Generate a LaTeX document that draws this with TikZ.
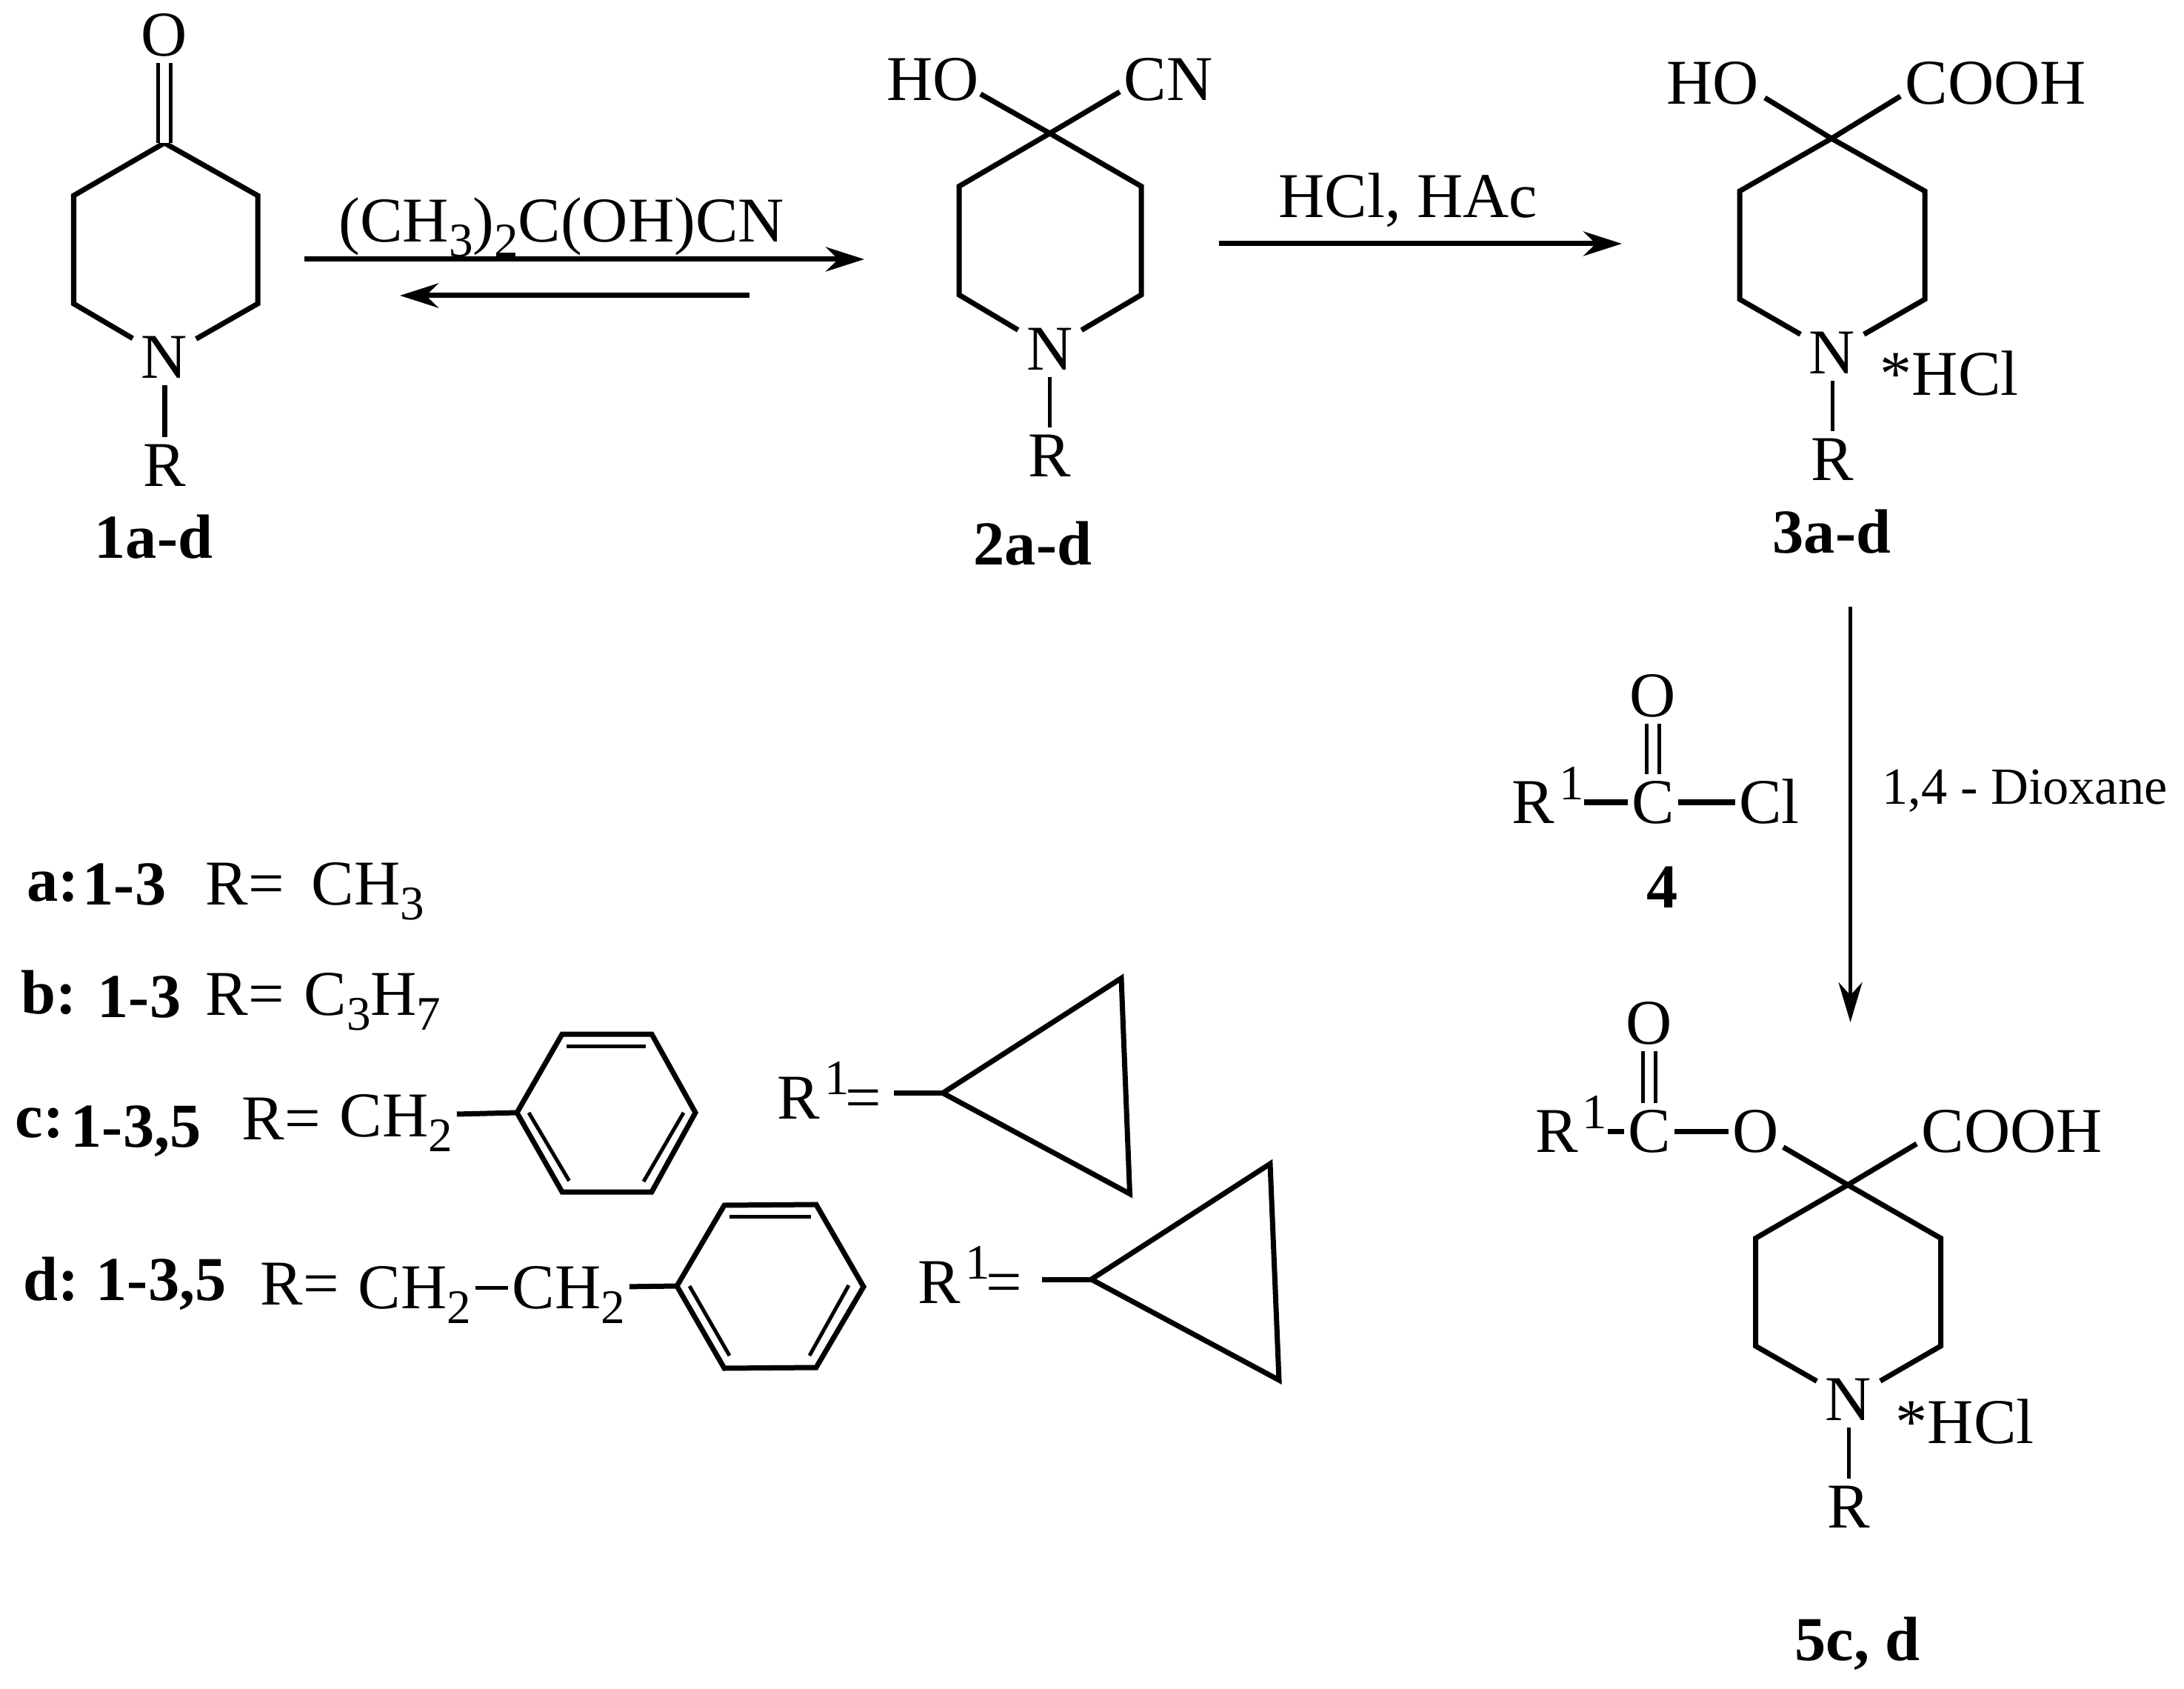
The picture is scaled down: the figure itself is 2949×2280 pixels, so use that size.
\documentclass[tikz,border=0pt]{standalone}
\usepackage{fontspec}
\setmainfont{Liberation Serif}
\usetikzlibrary{arrows.meta}
\newcommand{\sbs}[1]{\raisebox{-0.2cm}{\fontsize{18.5}{18.5}\selectfont #1}}
\newcommand{\spr}[1]{\hspace{0.06cm}\raisebox{0.32cm}{\fontsize{19}{19}\selectfont #1}}
\tikzset{
  atom/.style={
    inner xsep=0.05cm, inner ysep=0.09cm, text height=0.57cm, text depth=0pt,
    font=\fontsize{24.5}{28}\selectfont
  },
  amine/.style={atom, inner xsep=0.11cm},
  rgroup/.style={atom, inner xsep=0pt},
  formula/.style={inner sep=0pt, anchor=base west, font=\fontsize{24.5}{28}\selectfont},
  solvent/.style={inner sep=0pt, anchor=base west, font=\fontsize{20}{24}\selectfont},
  compound/.style={inner sep=0pt, anchor=base west, font=\fontsize{24}{28}\selectfont\bfseries},
  bond/.style={line width=0.07cm},
  thinbond/.style={line width=0.05cm},
  dblbond/.style={double, line width=0.05cm, double distance=0.12cm},
  reaction/.style={-{Stealth[length=0.52cm,width=0.33cm]}, line width=0.07cm},
  reactionthin/.style={-{Stealth[length=0.54cm,width=0.32cm]}, line width=0.05cm}
}
\begin{document}
\begin{tikzpicture}[x=0.01cm, y=-0.01cm]
\useasboundingbox (0,0) rectangle (2949,2280);

% Compound 1
\node[atom] (o1) at (222,47) {O};
\node[amine] (n1) at (222,482) {N};
\node[atom] (r1) at (222,628) {R};
\coordinate (c1a) at (222,193);
\coordinate (c1b) at (99.5,264);
\coordinate (c1c) at (99.5,410);
\coordinate (c1d) at (348,264);
\coordinate (c1e) at (348,410);
\draw[bond] (n1) -- (c1c) -- (c1b) -- (c1a) -- (c1d) -- (c1e) -- (n1);
\draw[dblbond] (o1) -- (c1a);
\draw[bond] (n1) -- (r1);
\node[compound] (lab1) at (127,754) {1a-d};

% Compound 2
\node[amine] (n2) at (1417.5,471) {N};
\node[atom] (r2) at (1417.5,615) {R};
\node[formula] (ho2) at (1197,136) {HO};
\node[formula] (cn2) at (1517,136) {CN};
\coordinate (c2a) at (1417.5,180);
\coordinate (c2b) at (1295,251.5);
\coordinate (c2c) at (1295,398);
\coordinate (c2d) at (1541,251.5);
\coordinate (c2e) at (1541,398);
\coordinate (c2ho) at (1324,127);
\coordinate (c2cn) at (1512,124);
\draw[bond] (n2) -- (c2c) -- (c2b) -- (c2a) -- (c2d) -- (c2e) -- (n2);
\draw[bond] (c2a) -- (c2ho);
\draw[bond] (c2a) -- (c2cn);
\draw[thinbond] (n2) -- (r2);
\node[compound] (lab2) at (1314,763) {2a-d};

% Compound 3
\node[amine] (n3) at (2474,476) {N};
\node[atom] (r3) at (2474,620) {R};
\node[formula] (ho3) at (2250,141) {HO};
\node[formula] (cooh3) at (2572,141) {COOH};
\node[formula] (hcl3) at (2538,534) {*HCl};
\coordinate (c3a) at (2473,187);
\coordinate (c3b) at (2349,258);
\coordinate (c3c) at (2349,404);
\coordinate (c3d) at (2599,258);
\coordinate (c3e) at (2599,404);
\coordinate (c3ho) at (2383,132);
\coordinate (c3cooh) at (2566,130);
\draw[bond] (n3) -- (c3c) -- (c3b) -- (c3a) -- (c3d) -- (c3e) -- (n3);
\draw[bond] (c3a) -- (c3ho);
\draw[bond] (c3a) -- (c3cooh);
\draw[thinbond] (n3) -- (r3);
\node[compound] (lab3) at (2393,747) {3a-d};

% Compound 4
\node[atom] (o4) at (2232,939) {O};
\node[atom] (c4) at (2232,1083) {C};
\node[atom] (cl4) at (2389,1083) {Cl};
\node[rgroup] (r4) at (2090,1083) {R\spr{1}};
\draw[dblbond] (o4) -- (c4);
\draw[bond] (r4) -- (c4);
\draw[bond] (c4) -- (cl4);
\node[compound] (lab4) at (2223,1225) {4};

% Compound 5
\node[atom] (o5a) at (2227,1381) {O};
\node[atom] (c5) at (2227,1527) {C};
\node[atom] (o5b) at (2371,1527) {O};
\node[rgroup] (r5) at (2121.5,1527) {R\spr{1}};
\node[amine] (n5) at (2496,1889) {N};
\node[atom] (r5b) at (2496,2034) {R};
\node[formula] (cooh5) at (2594,1555) {COOH};
\node[formula] (hcl5) at (2559,1948) {*HCl};
\coordinate (c5a) at (2495,1599.5);
\coordinate (c5b) at (2370.5,1671.5);
\coordinate (c5c) at (2370.5,1817);
\coordinate (c5d) at (2620.5,1671.5);
\coordinate (c5e) at (2620.5,1817);
\coordinate (c5cooh) at (2588,1544);
\draw[bond] (n5) -- (c5c) -- (c5b) -- (c5a) -- (c5d) -- (c5e) -- (n5);
\draw[bond] (o5b) -- (c5a);
\draw[bond] (c5a) -- (c5cooh);
\draw[dblbond] (o5a) -- (c5);
\draw[bond] (r5) -- (c5);
\draw[bond] (c5) -- (o5b);
\draw[thinbond] (n5) -- (r5b);
\node[compound] (lab5) at (2423,2241) {5c, d};

% Fleches
\coordinate (eqa) at (411,350);
\coordinate (eqb) at (1167,350);
\coordinate (eqc) at (1012,399);
\coordinate (eqd) at (540,399);
\coordinate (hcla) at (1646,329);
\coordinate (hclb) at (2190,329);
\coordinate (dioa) at (2498.5,819);
\coordinate (diob) at (2498.5,1380);
\draw[reaction] (eqa) -- (eqb);
\draw[reaction] (eqc) -- (eqd);
\draw[reaction] (hcla) -- (hclb);
\draw[reactionthin] (dioa) -- (diob);
\node[formula] (cyano) at (457,327) {(CH\sbs{3})\sbs{2}C(OH)CN};
\node[formula] (hclhac) at (1726,294) {HCl, HAc};
\node[solvent] (dioxane) at (2541,1085) {1,4 - Dioxane};

% Legende a, b
\node[compound] (leg1) at (36,1216) {a:};
\node[compound] (leg1n) at (111,1221) {1-3};
\node[formula] (leg1r) at (277,1221) {R=};
\node[formula] (leg1f) at (420,1221) {CH\sbs{3}};
\node[compound] (leg2) at (28,1368) {b:};
\node[compound] (leg2n) at (131,1373) {1-3};
\node[formula] (leg2r) at (277,1370) {R=};
\node[formula] (leg2f) at (410,1370) {C\sbs{3}H\sbs{7}};

% Legende c
\node[compound] (leg3) at (20,1535) {c:};
\node[compound] (leg3n) at (95,1548) {1-3,5};
\node[formula] (leg3r) at (326,1538) {R=};
\node[atom] (ch2c) at (535,1506) {CH\sbs{2}};
\coordinate (bc1) at (698,1502);
\coordinate (bc2) at (759,1396);
\coordinate (bc3) at (880,1396);
\coordinate (bc4) at (939,1502);
\coordinate (bc5) at (880,1609);
\coordinate (bc6) at (759,1609);
\coordinate (bc2i) at (765,1412);
\coordinate (bc3i) at (872,1412);
\coordinate (bc4i) at (923,1502);
\coordinate (bc5i) at (869,1595);
\coordinate (bc1i) at (714,1502);
\coordinate (bc6i) at (768.5,1594);
\draw[bond] (bc1) -- (bc2) -- (bc3) -- (bc4) -- (bc5) -- (bc6) -- cycle;
\draw[thinbond] (bc2i) -- (bc3i);
\draw[thinbond] (bc4i) -- (bc5i);
\draw[thinbond] (bc1i) -- (bc6i);
\draw[bond] (ch2c) -- (bc1);

% Legende d
\node[compound] (leg4) at (31,1755) {d:};
\node[compound] (leg4n) at (129,1755) {1-3,5};
\node[formula] (leg4r) at (351,1761) {R=};
\node[atom] (ch2d) at (560,1738) {CH\sbs{2}};
\node[atom] (ch2e) at (768,1738) {CH\sbs{2}};
\coordinate (bd1) at (914,1736);
\coordinate (bd2) at (978,1627);
\coordinate (bd3) at (1102,1626);
\coordinate (bd4) at (1166,1737);
\coordinate (bd5) at (1102,1846);
\coordinate (bd6) at (978,1847);
\coordinate (bd2i) at (985,1642);
\coordinate (bd3i) at (1095,1642);
\coordinate (bd4i) at (1146,1735);
\coordinate (bd5i) at (1093,1830);
\coordinate (bd1i) at (931,1736);
\coordinate (bd6i) at (985,1830);
\draw[bond] (bd1) -- (bd2) -- (bd3) -- (bd4) -- (bd5) -- (bd6) -- cycle;
\draw[thinbond] (bd2i) -- (bd3i);
\draw[thinbond] (bd4i) -- (bd5i);
\draw[thinbond] (bd1i) -- (bd6i);
\draw[thinbond] (ch2d) -- (ch2e);
\draw[bond] (ch2e) -- (bd1);

% Cyclopropyles
\node[formula] (rone) at (1049,1510) {R\spr{1}\kern-0.05cm=};
\coordinate (tonea) at (1207,1475.5);
\coordinate (toneb) at (1273,1475.5);
\coordinate (tonec) at (1514,1320.5);
\coordinate (toned) at (1525.5,1611.5);
\draw[bond] (tonea) -- (toneb);
\draw[bond] (toneb) -- (tonec) -- (toned) -- cycle;
\node[formula] (rtwo) at (1239,1759) {R\spr{1}\kern-0.05cm=};
\coordinate (ttwoa) at (1407,1727);
\coordinate (ttwob) at (1473.5,1727);
\coordinate (ttwoc) at (1715,1571);
\coordinate (ttwod) at (1727,1863);
\draw[bond] (ttwoa) -- (ttwob);
\draw[bond] (ttwob) -- (ttwoc) -- (ttwod) -- cycle;

\end{tikzpicture}
\end{document}
